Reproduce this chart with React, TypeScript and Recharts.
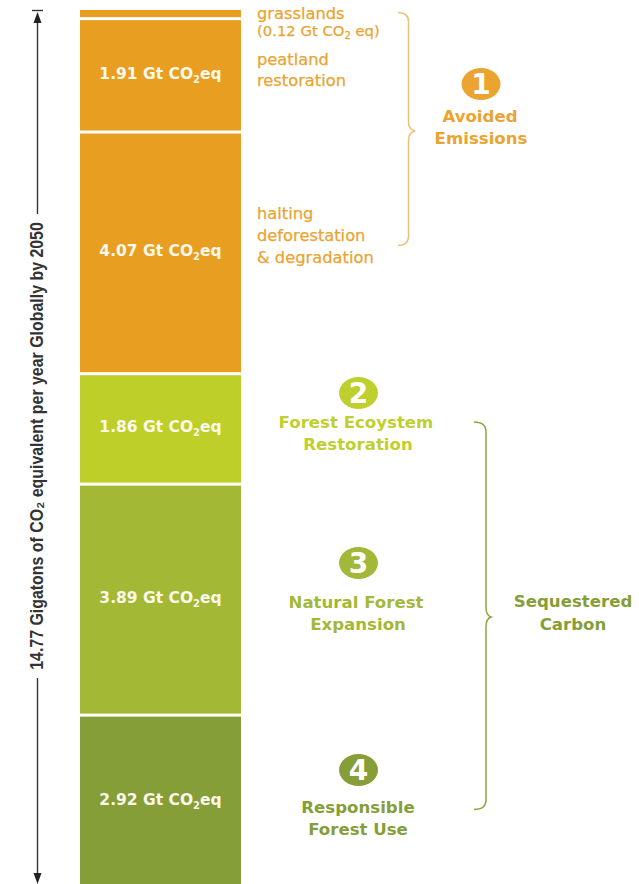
import React from 'react';
import { BarChart, Bar, XAxis, YAxis, LabelList } from 'recharts';

// stacked from the bottom of the column upwards
const segmentKeys = ['forestUse', 'naturalExpansion', 'ecosystemRestoration', 'deforestation', 'peatland', 'grasslands'];
const segmentValues = [2.92, 3.89, 1.86, 4.07, 1.91, 0.12];
const segmentColors = ['#869e38', '#a3b835', '#bfcf2a', '#e89f21', '#e89f21', '#e89f21'];

const total = 14.77;
const row: Record<string, number | string> = { name: 'Gt CO2eq' };
segmentKeys.forEach((key, i) => {
  row[key] = segmentValues[i];
});
const chartData = [row];

const ORANGE = '#eaa42f';
const LIME = '#bfd02e';
const MID_GREEN = '#a3b838';
const DARK_GREEN = '#869e38';
const FONT = '"DejaVu Sans", sans-serif';
const SEPARATOR = 3;

// every segment except the top one leaves a white strip above itself
function Segment(props: any) {
  const { x, y, width, height, fill, isTop } = props;
  const gap = isTop ? 0 : SEPARATOR;
  return <rect x={x} y={y + gap} width={width} height={height - gap} fill={fill} />;
}

function ValueLabel(props: any) {
  const { x, y, width, height, value } = props;
  return (
    <text
      x={x + width / 2}
      y={y + height / 2 + 5}
      textAnchor="middle"
      fill="#fbf8ec"
      fontFamily={FONT}
      fontWeight={700}
      fontSize={15.5}
    >
      {Number(value).toFixed(2)} Gt CO
      <tspan dy={4} fontSize={10}>2</tspan>
      <tspan dy={-4}>eq</tspan>
    </text>
  );
}

function Badge({ cx, cy, fill, digit }: { cx: number; cy: number; fill: string; digit: string }) {
  return (
    <g>
      <ellipse cx={cx} cy={cy} rx={19.5} ry={16} fill={fill} />
      <text x={cx} y={cy + 10} textAnchor="middle" fill="#fff" fontFamily={FONT} fontWeight={700} fontSize={28}>
        {digit}
      </text>
    </g>
  );
}

function Heading({ x, y, fill, children }: { x: number; y: number; fill: string; children: React.ReactNode }) {
  return (
    <text x={x} y={y} textAnchor="middle" fill={fill} fontFamily={FONT} fontWeight={700} fontSize={16.6}>
      {children}
    </text>
  );
}

function SideNote({ y, size = 16.3, children }: { y: number; size?: number; children: React.ReactNode }) {
  return (
    <text x={257} y={y} fill={ORANGE} stroke={ORANGE} strokeWidth={0.25} fontFamily={FONT} fontSize={size}>
      {children}
    </text>
  );
}

function Annotations() {
  return (
    <svg width={639} height={884} style={{ position: 'absolute', left: 0, top: 0 }}>
      {/* total height arrow */}
      <g stroke="#333" strokeWidth={1.4} fill="none">
        <path d="M32 10.5H43" />
        <path d="M37.5 20V214" />
        <path d="M37.5 678V875" />
      </g>
      <path d="M37.5 12L41.5 23H33.5Z" fill="#222" />
      <path d="M37.5 884L41.5 873H33.5Z" fill="#222" />
      <text
        transform="translate(43 446) rotate(-90) scale(0.885 1)"
        textAnchor="middle"
        fill="#333"
        fontFamily='"Liberation Sans", sans-serif'
        fontWeight={700}
        fontSize={18}
      >
        14.77 Gigatons of CO₂ equivalent per year Globally by 2050
      </text>

      <SideNote y={19}>grasslands</SideNote>
      <SideNote y={36} size={14.8}>
        (0.12 Gt CO<tspan dy={3} fontSize={10}>2</tspan>
        <tspan dy={-3}> eq)</tspan>
      </SideNote>
      <SideNote y={65}>peatland</SideNote>
      <SideNote y={86}>restoration</SideNote>
      <SideNote y={219}>halting</SideNote>
      <SideNote y={241}>deforestation</SideNote>
      <SideNote y={263}>&amp; degradation</SideNote>

      {/* braces */}
      <path
        d="M398 12.5C405 12.5 408.5 15 408.5 22V122C408.5 127 411 130 415 131C411 132 408.5 135 408.5 140V236C408.5 243 405 245.5 398 245.5"
        fill="none"
        stroke="#edc07a"
        strokeWidth={1.5}
      />
      <path
        d="M474 422C481 422 486 425 486 432V607C486 612 488 616 491 617C488 618 486 622 486 627V800C486 807 481 809.5 474 809.5"
        fill="none"
        stroke="#8da53c"
        strokeWidth={1.5}
      />

      <Badge cx={481} cy={84} fill={ORANGE} digit="1" />
      <Heading x={480} y={122} fill={ORANGE}>Avoided</Heading>
      <Heading x={481} y={144} fill={ORANGE}>Emissions</Heading>

      <Badge cx={358.5} cy={393} fill={LIME} digit="2" />
      <Heading x={356} y={428} fill={LIME}>Forest Ecoystem</Heading>
      <Heading x={358} y={450} fill={LIME}>Restoration</Heading>

      <Badge cx={358.5} cy={563} fill={MID_GREEN} digit="3" />
      <Heading x={356} y={608} fill={MID_GREEN}>Natural Forest</Heading>
      <Heading x={358} y={630} fill={MID_GREEN}>Expansion</Heading>

      <Badge cx={358.5} cy={770} fill={DARK_GREEN} digit="4" />
      <Heading x={358} y={813} fill={DARK_GREEN}>Responsible</Heading>
      <Heading x={358} y={835} fill={DARK_GREEN}>Forest Use</Heading>

      <Heading x={573} y={607} fill={DARK_GREEN}>Sequestered</Heading>
      <Heading x={573} y={630} fill={DARK_GREEN}>Carbon</Heading>
    </svg>
  );
}

export default function App() {
  return (
    <div style={{ position: 'absolute', left: 0, top: 0, width: 639, height: 884, overflow: 'hidden', background: '#fff' }}>
      <BarChart
        width={639}
        height={890}
        data={chartData}
        margin={{ top: 10, right: 398, bottom: 3, left: 80 }}
        barCategoryGap={0}
      >
        <XAxis dataKey="name" hide />
        <YAxis hide domain={[0, total]} allowDataOverflow />
        {segmentKeys.map((key, i) => (
          <Bar
            key={key}
            dataKey={key}
            stackId="column"
            fill={segmentColors[i]}
            isAnimationActive={false}
            shape={(p: any) => <Segment {...p} isTop={i === segmentKeys.length - 1} />}
          >
            {key !== 'grasslands' && <LabelList dataKey={key} content={ValueLabel} />}
          </Bar>
        ))}
      </BarChart>
      <Annotations />
    </div>
  );
}
